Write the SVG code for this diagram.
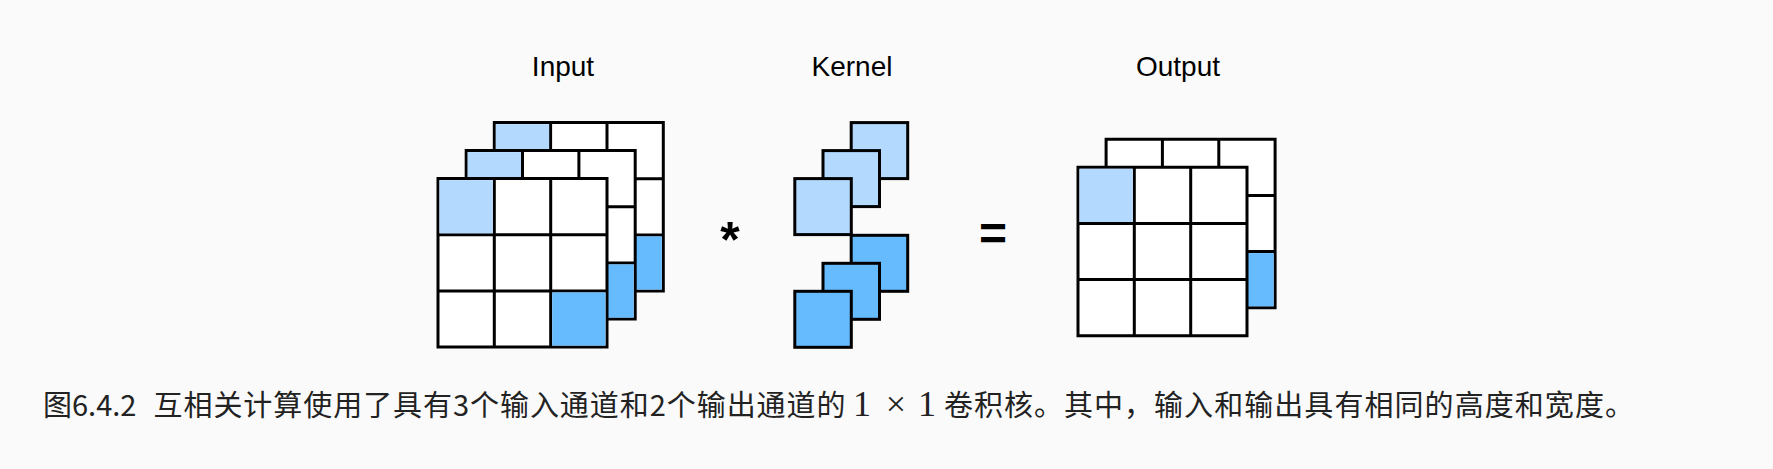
<svg xmlns="http://www.w3.org/2000/svg" width="1773" height="469" viewBox="0 0 1773 469">
<style>
.c{stroke:#000;stroke-width:3;stroke-linejoin:miter;stroke-linecap:square}
.w{fill:#fff}.l{fill:#b3d9ff}.d{fill:#66bbff}
.g{fill:none;stroke:#000;stroke-width:3;stroke-linecap:square}
.t{font-family:"Liberation Sans",Arial,sans-serif;font-size:28px;fill:#000;text-anchor:middle}
.o{font-family:"Liberation Sans",Arial,sans-serif;font-weight:700;fill:#000;text-anchor:middle}
.cap{font-family:"Noto Sans CJK SC","Noto Sans",sans-serif;font-size:29px;fill:#222}
.m{font-family:"Liberation Serif",serif;font-size:36px;fill:#222;text-anchor:middle}
</style>
<rect width="1773" height="469" fill="#fafafa"/>
<defs>
<g id="cellgrid">
<rect class="w" width="169" height="168.5"/>
<path class="g" d="M0 0H169V168.5H0ZM56.3 0V168.5M112.7 0V168.5M0 56.2H169M0 112.3H169"/>
</g>
</defs>
<g id="input">
<g transform="translate(494.3 122.6)"><use href="#cellgrid"/><rect class="l" x="1.5" y="1.5" width="53.3" height="53.2"/><rect class="d" x="114.2" y="113.8" width="53.3" height="53.2"/></g>
<g transform="translate(466.2 150.6)"><use href="#cellgrid"/><rect class="l" x="1.5" y="1.5" width="53.3" height="53.2"/><rect class="d" x="114.2" y="113.8" width="53.3" height="53.2"/></g>
<g transform="translate(438 178.6)"><use href="#cellgrid"/><rect class="l" x="1.5" y="1.5" width="53.3" height="53.2"/><rect class="d" x="114.2" y="113.8" width="53.3" height="53.2"/></g>
<text class="t" x="563" y="76">Input</text>
</g>
<g id="operator-star"><text class="o" x="730" y="257" font-size="50">*</text></g>
<g id="kernel">
<rect class="c l" x="851.2" y="122.6" width="56.5" height="56"/>
<rect class="c l" x="823" y="150.6" width="56.5" height="56"/>
<rect class="c l" x="794.8" y="178.6" width="56.5" height="56"/>
<rect class="c d" x="851.2" y="235.3" width="56.5" height="56"/>
<rect class="c d" x="823" y="263.3" width="56.5" height="56"/>
<rect class="c d" x="794.8" y="291.3" width="56.5" height="56"/>
<text class="t" x="852" y="76">Kernel</text>
</g>
<g id="operator-equals"><text class="o" x="993" y="250" font-size="48">=</text></g>
<g id="output">
<g transform="translate(1106.1 139.3)"><use href="#cellgrid"/><rect class="d" x="114.2" y="113.8" width="53.3" height="53.2"/></g>
<g transform="translate(1078 167.3)"><use href="#cellgrid"/><rect class="l" x="1.5" y="1.5" width="53.3" height="53.2"/></g>
<text class="t" x="1178" y="76">Output</text>
</g>
<g id="caption">
<text class="cap" x="43" y="416">图6.4.2</text>
<text class="cap" x="153.5" y="416" textLength="692">互相关计算使用了具有3个输入通道和2个输出通道的</text>
<text class="m" x="862" y="416">1</text>
<text class="m" x="896" y="416" font-size="40">×</text>
<text class="m" x="927" y="416">1</text>
<text class="cap" x="944" y="416" textLength="209">卷积核。其中&#xFF0C;</text>
<text class="cap" x="1154" y="416" textLength="480">输入和输出具有相同的高度和宽度。</text>
</g>
<g id="connectors"></g>
</svg>
